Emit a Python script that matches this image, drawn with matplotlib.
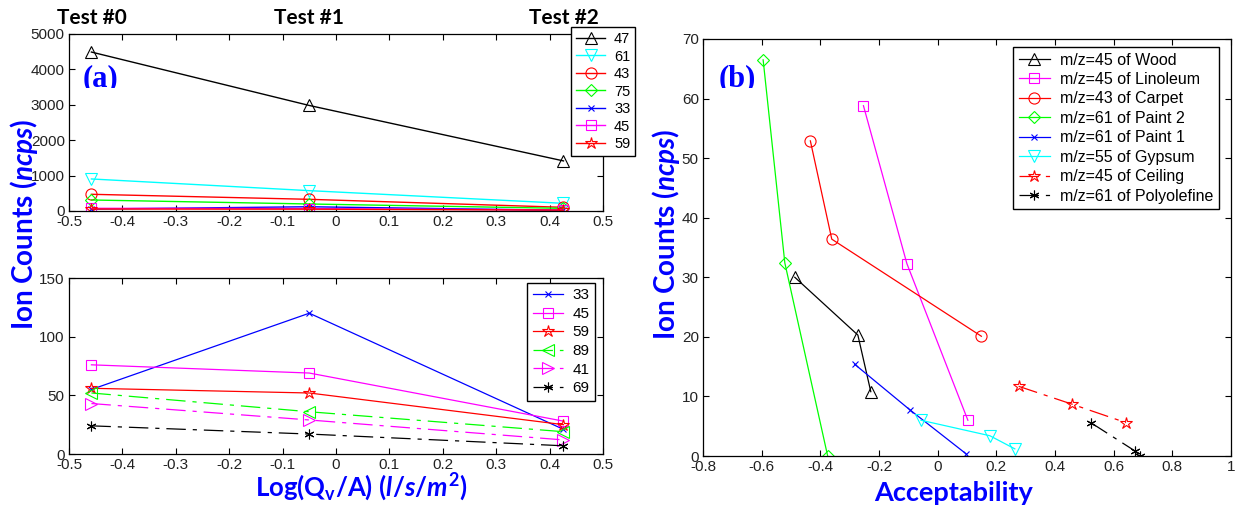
import matplotlib
matplotlib.use("Agg")
import matplotlib.pyplot as plt
from matplotlib.transforms import Bbox, TransformedBbox

plt.rcParams["font.family"] = ["Liberation Sans", "DejaVu Sans"]
plt.rcParams["axes.unicode_minus"] = False
plt.rcParams["lines.scale_dashes"] = False
plt.rcParams["mathtext.fontset"] = "custom"
plt.rcParams["mathtext.rm"] = "Lato:bold"
plt.rcParams["mathtext.it"] = "Lato:bold:italic"
plt.rcParams["mathtext.bf"] = "Lato:bold"

# ---- data ----
log_flow = [-0.458, -0.05, 0.426]
test_names = ["Test #0", "Test #1", "Test #2"]

# panel (a) top: m/z series
mz47 = [4490, 2981, 1415]
mz61 = [905, 575, 217]
mz43 = [472, 330, 104]
mz75 = [311, 198, 75]
mz33 = [55, 120, 21]
mz45 = [76, 69, 28]
mz59 = [56, 52, 25]
# panel (a) bottom: extra low-count series
mz89 = [52, 36, 19]
mz41 = [43, 29, 12]
mz69 = [24, 17, 7]

top_names = ["47", "61", "43", "75", "33", "45", "59"]
bottom_names = ["33", "45", "59", "89", "41", "69"]

# panel (b): acceptability vs ion counts
wood_acc = [-0.487, -0.272, -0.228]
wood_ion = [30.0, 20.3, 10.8]
lino_acc = [-0.253, -0.105, 0.103]
lino_ion = [58.8, 32.3, 6.0]
carpet_acc = [-0.434, -0.361, 0.149]
carpet_ion = [52.9, 36.4, 20.1]
paint2_acc = [-0.595, -0.521, -0.375]
paint2_ion = [66.5, 32.4, 0.0]
paint1_acc = [-0.283, -0.096, 0.096]
paint1_ion = [15.4, 7.8, 0.4]
gypsum_acc = [-0.057, 0.178, 0.263]
gypsum_ion = [6.0, 3.4, 1.2]
ceiling_acc = [0.276, 0.458, 0.642]
ceiling_ion = [11.7, 8.7, 5.6]
poly_acc = [0.522, 0.674, 0.691]
poly_ion = [5.6, 0.8, 0.0]
material_names = ["m/z=45 of Wood", "m/z=45 of Linoleum", "m/z=43 of Carpet",
                  "m/z=61 of Paint 2", "m/z=61 of Paint 1", "m/z=55 of Gypsum",
                  "m/z=45 of Ceiling", "m/z=61 of Polyolefine"]

# ---- styles ----
ASTER = (6, 2, 0)
DASHDOT = (0, (14, 5, 3, 5))
style = {
    "47": ("black", "^", 8), "61": ("cyan", "v", 8), "43": ("red", "o", 8),
    "75": ("lime", "D", 6), "33": ("blue", "x", 4), "45": ("magenta", "s", 7),
    "59": ("red", "*", 9), "89": ("lime", "<", 8), "41": ("magenta", ">", 8),
    "69": ("black", ASTER, 7),
}
label_font = dict(family="Lato", weight="bold", color="blue")
tick_color = "#222222"
xticks_a = [i / 10 for i in range(-5, 6)]
xticklabels_a = ["-0.5", "-0.4", "-0.3", "-0.2", "-0.1", "0", "0.1", "0.2", "0.3", "0.4", "0.5"]


def style_axes(ax):
    ax.tick_params(direction="in", top=True, right=True, length=4, width=0.8,
                   labelsize=11, labelcolor=tick_color, pad=3)
    for s in ax.spines.values():
        s.set_linewidth(0.9)


def legend(ax, anchor, fontsize, hl, spacing):
    lg = ax.legend(loc="upper left", bbox_to_anchor=anchor, borderaxespad=0,
                   fontsize=fontsize, fancybox=False, framealpha=1, edgecolor="black",
                   handlelength=hl, handletextpad=0.6, labelspacing=spacing,
                   borderpad=0.35)
    lg.get_frame().set_linewidth(1.0)
    lg.set_zorder(10)
    return lg


fig = plt.figure(figsize=(12.46, 5.08), dpi=100)
W, H = 1246, 508


def px_axes(x0, y0, x1, y1):
    return fig.add_axes([x0 / W, 1 - y1 / H, (x1 - x0) / W, (y1 - y0) / H])


ax_top = px_axes(69, 34, 603, 211)
ax_bot = px_axes(69, 278, 603, 454)
ax_r = px_axes(703, 39, 1231, 456)

# ---- panel (a) top ----
top_series = [mz47, mz61, mz43, mz75, mz33, mz45, mz59]
for name, vals in zip(top_names, top_series):
    c, m, ms = style[name]
    ax_top.plot(log_flow, vals, color=c, marker=m, ms=ms, mfc="none", mec=c,
                mew=0.8, lw=1.0, label=name)
ax_top.set_xlim(-0.5, 0.5)
ax_top.set_ylim(0, 5000)
ax_top.set_xticks(xticks_a)
ax_top.set_xticklabels(xticklabels_a)
ax_top.set_yticks(range(0, 5001, 1000))
style_axes(ax_top)
legend(ax_top, (0.940, 1.04), 10.5, 2.0, 0.24)
for x, t in zip(log_flow, test_names):
    ax_top.text(x, 1 + 16 / 177, t, transform=ax_top.get_xaxis_transform(),
                ha="center", va="center", fontsize=15, family="Lato", weight="bold")

# ---- panel (a) bottom ----
bottom_series = [mz33, mz45, mz59, mz89, mz41, mz69]
for name, vals in zip(bottom_names, bottom_series):
    c, m, ms = style[name]
    ls = "-" if name in ("33", "45", "59") else DASHDOT
    ax_bot.plot(log_flow, vals, color=c, marker=m, ms=ms, mfc="none", mec=c,
                mew=0.8, lw=0.9, ls=ls, label=name)
ax_bot.set_xlim(-0.5, 0.5)
ax_bot.set_ylim(0, 150)
ax_bot.set_xticks(xticks_a)
ax_bot.set_xticklabels(xticklabels_a)
ax_bot.set_yticks([0, 50, 100, 150])
style_axes(ax_bot)
legend(ax_bot, (0.858, 0.972), 11, 2.0, 0.30)

# ---- panel (b) ----
panel_b = [
    (wood_acc, wood_ion, "black", "^", 8, "-"),
    (lino_acc, lino_ion, "magenta", "s", 7, "-"),
    (carpet_acc, carpet_ion, "red", "o", 8, "-"),
    (paint2_acc, paint2_ion, "lime", "D", 6, "-"),
    (paint1_acc, paint1_ion, "blue", "x", 4, "-"),
    (gypsum_acc, gypsum_ion, "cyan", "v", 8, "-"),
    (ceiling_acc, ceiling_ion, "red", "*", 9, DASHDOT),
    (poly_acc, poly_ion, "black", ASTER, 7, DASHDOT),
]
for (xa, ya, c, m, ms, ls), name in zip(panel_b, material_names):
    ax_r.plot(xa, ya, color=c, marker=m, ms=ms, mfc="none", mec=c, mew=0.8,
              lw=0.9, ls=ls, label=name)
ax_r.set_xlim(-0.8, 1.0)
ax_r.set_ylim(0, 70)
ax_r.set_xticks([-0.8, -0.6, -0.4, -0.2, 0, 0.2, 0.4, 0.6, 0.8, 1.0])
ax_r.set_xticklabels(["-0.8", "-0.6", "-0.4", "-0.2", "0", "0.2", "0.4", "0.6", "0.8", "1"])
ax_r.set_yticks(range(0, 71, 10))
style_axes(ax_r)
legend(ax_r, (0.587, 0.981), 11.5, 2.0, 0.28)

# ---- axis labels and panel tags ----
fig.text(24 / W, 1 - 224 / H, r"Ion Counts ($\mathit{ncps}$)", rotation=90,
         ha="center", va="center", fontsize=20, **label_font)
fig.text(666 / W, 1 - 234 / H, r"Ion Counts ($\mathit{ncps}$)", rotation=90,
         ha="center", va="center", fontsize=20, **label_font)
fig.text(361 / W, 1 - 487 / H, r"$\mathrm{Log(Q_v/A)\ (}\mathit{l/s/m^2}\mathrm{)}$",
         ha="center", va="center", fontsize=18.5, **label_font)
fig.text(954 / W, 1 - 493 / H, "Acceptability", ha="center", va="center",
         fontsize=19.5, **label_font)

# panel tags, cut off just under the baseline as in the source figure
for x0, tag in [(83, "(a)"), (719, "(b)")]:
    t = fig.text(x0 / W, 1 - 86 / H, tag, ha="left", va="baseline", fontsize=22,
                 family="Liberation Serif", weight="bold", color="blue")
    t.set_clip_box(TransformedBbox(Bbox([[0, 1 - 88 / H], [1, 1]]), fig.transFigure))
    t.set_clip_on(True)

fig.savefig("out.png", dpi=100)
